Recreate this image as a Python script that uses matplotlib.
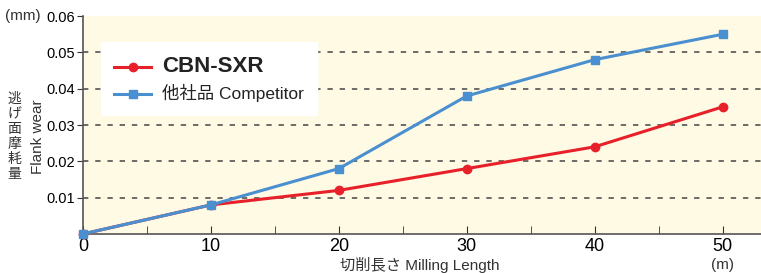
import matplotlib.pyplot as plt
from matplotlib.ticker import MultipleLocator

plt.rcParams['font.family'] = ['Liberation Sans', 'Noto Sans CJK JP', 'DejaVu Sans']

# data
milling_length = [0, 10, 20, 30, 40, 50]
cbn_sxr = [0.0, 0.008, 0.012, 0.018, 0.024, 0.035]
competitor = [0.0, 0.008, 0.018, 0.038, 0.048, 0.055]
y_ticks = [0.01, 0.02, 0.03, 0.04, 0.05, 0.06]
x_ticks = [0, 10, 20, 30, 40, 50]

red = '#e8202a'
blue = '#4a8fd0'

fig = plt.figure(figsize=(7.61, 2.73), dpi=100)
ax = fig.add_axes([0.109, 0.143, 0.891, 0.798])
ax.set_facecolor('#fefae4')

ax.plot(milling_length, cbn_sxr, color=red, lw=2.2, marker='o', ms=6,
        label='CBN-SXR', zorder=3, clip_on=False)
ax.plot(milling_length, competitor, color=blue, lw=2.2, marker='s', ms=5.5,
        label='他社品 Competitor', zorder=4, clip_on=False)

ax.set_xlim(0, 53)
ax.set_ylim(0, 0.06)
ax.set_yticks(y_ticks)
ax.set_yticklabels(['%.2f' % v for v in y_ticks])
ax.set_xticks(x_ticks)
ax.xaxis.set_minor_locator(MultipleLocator(5))
ax.tick_params(axis='x', direction='in', length=6, labelsize=13, pad=3,
               which='both', color='#333333')
ax.tick_params(axis='y', direction='out', length=4, labelsize=10.5, pad=2,
               color='#333333')
for v in y_ticks[:-1]:
    ax.axhline(v, color='#444444', lw=1.1, ls=(0, (3.5, 4.5)), zorder=1)

for s in ['top', 'right']:
    ax.spines[s].set_visible(False)
ax.spines['left'].set_color('#555555')
ax.spines['bottom'].set_color('#555555')
ax.spines['left'].set_linewidth(1.2)
ax.spines['bottom'].set_linewidth(1.2)

leg = ax.legend(loc='upper left', bbox_to_anchor=(0.026, 0.88), frameon=True,
                fancybox=False, edgecolor='white', framealpha=1,
                handlelength=2.6, borderpad=1.0, labelspacing=0.45,
                borderaxespad=0)
texts = leg.get_texts()
texts[0].set_fontsize(16)
texts[0].set_fontweight('bold')
texts[0].set_color('#222222')
texts[1].set_fontsize(12.5)
texts[1].set_color('#222222')

fig.text(0.006, 0.94, '(mm)', fontsize=11, ha='left', va='center',
         color='#333333')
fig.text(0.019, 0.5, '\n'.join('逃げ面摩耗量'), fontsize=10, ha='center',
         va='center', color='#333333', linespacing=1.1)
fig.text(0.05, 0.5, 'Flank wear', fontsize=11, rotation=90, ha='center',
         va='center', color='#333333')
fig.text(0.552, 0.03, '切削長さ Milling Length', fontsize=11, ha='center',
         va='center', color='#333333')
fig.text(0.95, 0.03, '(m)', fontsize=11, ha='center', va='center',
         color='#333333')

fig.savefig('out.png', dpi=100)
